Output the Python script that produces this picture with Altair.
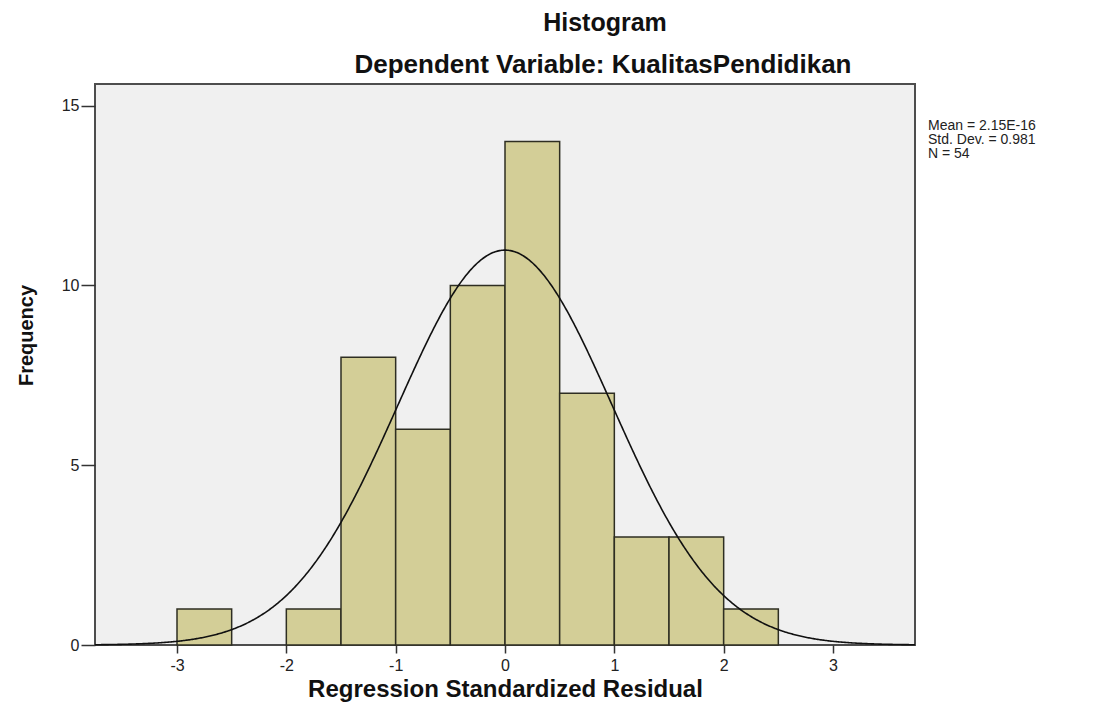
import altair as alt
import pandas as pd

# ---- data ----
bin_starts = [-3.0, -2.5, -2.0, -1.5, -1.0, -0.5, 0.0, 0.5, 1.0, 1.5, 2.0]
bin_width = 0.5
frequencies = [1, 0, 1, 8, 6, 10, 14, 7, 3, 3, 1]
x_ticks = [-3, -2, -1, 0, 1, 2, 3]
y_ticks = [0, 5, 10, 15]
mean_value = 2.15e-16
mean_label = "2.15E-16"
std_dev = 0.981
n_obs = 54
title_text = "Histogram"
subtitle_text = "Dependent Variable: KualitasPendidikan"
x_title = "Regression Standardized Residual"
y_title = "Frequency"

FONT = "Liberation Sans"
W, H = 820, 561

bars_df = pd.DataFrame({
    "start": bin_starts,
    "end": [s + bin_width for s in bin_starts],
    "freq": frequencies,
})

x_scale = alt.Scale(domain=[-3.75, 3.75], nice=False, zero=False)
y_scale = alt.Scale(domain=[0, 15.6], nice=False)

x_axis = alt.Axis(values=x_ticks, title=x_title, labelExpr="datum.value + ''", grid=False,
                  domain=False, tickSize=8, tickColor="#333333", tickWidth=1.5,
                  labelFont=FONT, labelFontSize=16, labelColor="#222222", labelPadding=4,
                  titleFont=FONT, titleFontSize=24, titleFontWeight="bold", titleColor="#111111",
                  titleX=W / 2, titleY=51, titleAlign="center", titleBaseline="alphabetic")
y_axis = alt.Axis(values=y_ticks, title=y_title, labelExpr="datum.value + ''", grid=False,
                  domain=False, tickSize=14, tickColor="#333333", tickWidth=1.5,
                  labelFont=FONT, labelFontSize=16, labelColor="#222222", labelPadding=2,
                  titleFont=FONT, titleFontSize=20, titleFontWeight="bold", titleColor="#111111",
                  titleAngle=270, titleX=-63, titleY=251, titleAlign="center",
                  titleBaseline="alphabetic")

bars = alt.Chart(bars_df).transform_filter("datum.freq > 0").mark_rect(
    fill="#d3ce97", stroke="#2e2e22", strokeWidth=1.5
).encode(
    x=alt.X("start:Q", scale=x_scale, axis=x_axis),
    x2="end:Q",
    y=alt.Y("freq:Q", scale=y_scale, axis=y_axis),
    y2=alt.datum(0),
)

curve = alt.Chart(alt.sequence(-3.75, 3.7501, 0.01, as_="z")).transform_calculate(
    dens=f"{n_obs * bin_width}*exp(-0.5*pow((datum.z-({mean_value}))/{std_dev},2))/({std_dev}*sqrt(2*PI))"
).mark_line(color="#111111", strokeWidth=1.6).encode(
    x=alt.X("z:Q", scale=x_scale),
    y=alt.Y("dens:Q", scale=y_scale),
)

title_df = pd.DataFrame({"t": [title_text]})
sub_df = pd.DataFrame({"t": [subtitle_text]})

title_mark = alt.Chart(title_df).mark_text(
    font=FONT, fontSize=25, fontWeight="bold", color="#111111", align="center",
    baseline="alphabetic"
).encode(text="t:N", x=alt.value(510), y=alt.value(-53))

sub_mark = alt.Chart(sub_df).mark_text(
    font=FONT, fontSize=26, fontWeight="bold", color="#111111", align="center",
    baseline="alphabetic"
).encode(text="t:N", x=alt.value(508), y=alt.value(-11))

stats_lines = [f"Mean = {mean_label}", f"Std. Dev. = {std_dev}", f"N = {n_obs}"]
stats_mark = alt.Chart(pd.DataFrame({"k": [0]})).mark_text(
    font=FONT, fontSize=14, color="#222222", align="left", baseline="alphabetic",
    lineHeight=14
).encode(text=alt.value(stats_lines), x=alt.value(833), y=alt.value(46))

chart = alt.layer(bars, curve, title_mark, sub_mark, stats_mark).properties(
    width=W, height=H,
    autosize=alt.AutoSizeParams(type="none"),
    padding={"left": 87, "top": 76, "right": 171, "bottom": 58},
).configure(
    background="white"
).configure_view(
    fill="#f0f0f0", stroke="#4d4d4d", strokeWidth=2
)

chart.save("out.html", embed_options={"renderer": "svg", "actions": False})
